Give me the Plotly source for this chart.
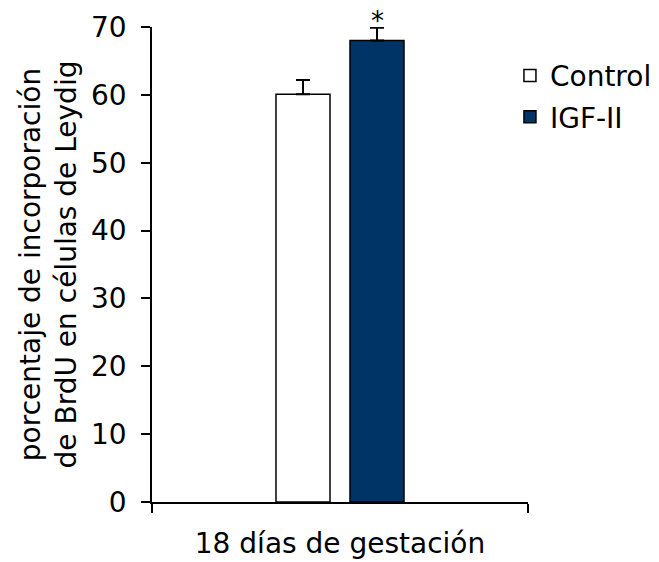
import plotly.graph_objects as go

categories = ["18 días de gestación"]
series_names = ["Control", "IGF-II"]
control_values = [60.1]
control_err = [2.1]
igf_values = [68.0]
igf_err = [1.9]
colors = ["#ffffff", "#003366"]
y_ticks = [0, 10, 20, 30, 40, 50, 60, 70]

font_family = "DejaVu Sans"
fs = 28

fig = go.Figure()
fig.add_trace(go.Bar(
    x=categories, y=control_values, name=series_names[0],
    marker=dict(color=colors[0], line=dict(color="black", width=1.5)),
    error_y=dict(type="data", symmetric=False, array=control_err, arrayminus=[0],
                 color="black", thickness=2, width=7),
    legendgroup="a",
))
fig.add_trace(go.Bar(
    x=categories, y=igf_values, name=series_names[1],
    marker=dict(color=colors[1], line=dict(color="black", width=1.5)),
    error_y=dict(type="data", symmetric=False, array=igf_err, arrayminus=[0],
                 color="black", thickness=2, width=7),
    legendgroup="b",
))

fig.add_annotation(
    x=categories[0], y=igf_values[0] + igf_err[0], xref="x", yref="y",
    text="*", showarrow=False, xshift=37, yanchor="bottom", yshift=-10,
    font=dict(family=font_family, size=26, color="black"),
)

fig.update_layout(
    width=659, height=562,
    margin=dict(l=152, r=131, t=27, b=60, autoexpand=False),
    paper_bgcolor="white", plot_bgcolor="white",
    barmode="group", bargap=0.6064, bargroupgap=0.27,
    font=dict(family=font_family, size=fs, color="black"),
    showlegend=True,
    legend=dict(x=0.952, y=0.95, xanchor="left", yanchor="top",
                font=dict(size=fs), tracegroupgap=2,
                bgcolor="rgba(0,0,0,0)"),
    xaxis=dict(
        showline=True, linecolor="black", linewidth=1.5, automargin=False,
        ticks="outside", tickson="boundaries", ticklen=9, tickwidth=1.5,
        tickcolor="black", showgrid=False, ticklabelstandoff=16,
        tickfont=dict(size=fs),
    ),
    yaxis=dict(
        range=[0, 70], tickvals=y_ticks, showline=True, linecolor="black",
        linewidth=1.5, ticks="outside", ticklen=9, tickwidth=1.5, automargin=False,
        tickcolor="black", showgrid=False, zeroline=False,
        ticklabelstandoff=9, tickfont=dict(size=fs),
        title=dict(text="porcentaje de incorporación<br>de BrdU en células de Leydig",
                   font=dict(size=fs), standoff=6),
    ),
)

fig.write_html("out.html")
